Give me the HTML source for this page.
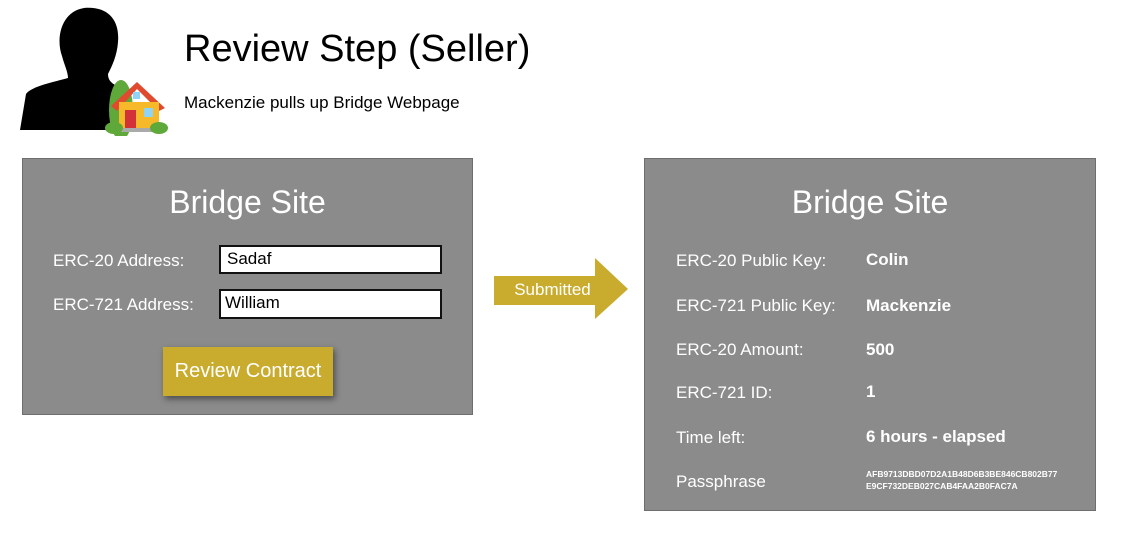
<!DOCTYPE html>
<html><head><style>
body{margin:0;width:1123px;height:551px;background:#fff;position:relative;overflow:hidden;font-family:"Liberation Sans",sans-serif}
.a{position:absolute;white-space:nowrap}
.box{position:absolute;background:#8b8b8b;border:1.5px solid #6e6e6e;box-sizing:border-box}
.w{color:#fff}
.lab{font-size:17px;color:#fff}
.val{font-size:17px;color:#fff;font-weight:bold}
.inp{position:absolute;background:#fff;border:2px solid #111;box-sizing:border-box;font-size:17px;color:#000;padding-left:6px;line-height:24px}
</style></head><body>
<svg class="a" style="left:18px;top:6px" width="150" height="130" viewBox="0 0 150 130">
<path d="M66 2 C88 0 102 12 100 36 C99 50 94 60 90 68 C90 76 96 80 110 84 L112 124 L2 124 L8 88 C14 80 36 76 50 72 C50 66 46 58 44 50 C38 34 42 6 66 2Z" fill="#000"/>
<ellipse cx="103" cy="104" rx="12" ry="30" fill="#5fa83a"/>
<polygon points="93,100 119,76 147,102 141,105 119,83 99,105" fill="#e04a2e"/>
<rect x="101" y="96" width="40" height="30" fill="#f5b92a"/>
<rect x="107" y="104" width="11" height="21" fill="#d3313a"/>
<rect x="126" y="102" width="9" height="9" fill="#8fd3f5"/>
<rect x="115" y="86" width="7" height="7" fill="#8fd3f5"/>
<rect x="101" y="122" width="40" height="4" fill="#aaa"/>
<ellipse cx="96" cy="122" rx="9" ry="6" fill="#5fa83a"/>
<ellipse cx="141" cy="122" rx="9" ry="6" fill="#5fa83a"/>
</svg>
<div class="a" style="left:184px;top:28px;font-size:38px;color:#000">Review Step (Seller)</div>
<div class="a" style="left:184px;top:93px;font-size:17px;color:#000">Mackenzie pulls up Bridge Webpage</div>

<div class="box" style="left:22px;top:158px;width:451px;height:257px"></div>
<div class="a w" style="left:22px;width:451px;text-align:center;top:184px;font-size:32px">Bridge Site</div>
<div class="a lab" style="left:53px;top:251px">ERC-20 Address:</div>
<div class="a lab" style="left:53px;top:295px">ERC-721 Address:</div>
<div class="inp" style="left:219px;top:245px;width:223px;height:29px">Sadaf</div>
<div class="inp" style="left:219px;top:289px;width:223px;height:30px;padding-left:4px">William</div>
<div class="a" style="left:163px;top:347px;width:170px;height:49px;background:#c9ab2e;box-shadow:2px 3px 6px rgba(0,0,0,.45);color:#fff;font-size:20px;line-height:49px;text-align:center">Review Contract</div>

<svg class="a" style="left:494px;top:258px" width="135" height="62"><polygon points="0,18 101,18 101,0 134,31 101,61 101,47 0,47" fill="#c9ab2e"/></svg>
<div class="a w" style="left:494px;width:117px;text-align:center;top:280px;font-size:17px">Submitted</div>

<div class="box" style="left:644px;top:158px;width:452px;height:353px"></div>
<div class="a w" style="left:644px;width:452px;text-align:center;top:184px;font-size:32px">Bridge Site</div>
<div class="a lab" style="left:676px;top:251px">ERC-20 Public Key:</div>
<div class="a lab" style="left:676px;top:296px">ERC-721 Public Key:</div>
<div class="a lab" style="left:676px;top:340px">ERC-20 Amount:</div>
<div class="a lab" style="left:676px;top:383px">ERC-721 ID:</div>
<div class="a lab" style="left:676px;top:428px">Time left:</div>
<div class="a lab" style="left:676px;top:472px">Passphrase</div>
<div class="a val" style="left:866px;top:250px">Colin</div>
<div class="a val" style="left:866px;top:296px">Mackenzie</div>
<div class="a val" style="left:866px;top:340px">500</div>
<div class="a val" style="left:866px;top:382px">1</div>
<div class="a val" style="left:866px;top:427px">6 hours - elapsed</div>
<div class="a" style="left:866px;top:468px;font-size:8.5px;line-height:12px;color:#fff;font-weight:bold">AFB9713DBD07D2A1B48D6B3BE846CB802B77<br>E9CF732DEB027CAB4FAA2B0FAC7A</div>
</body></html>
